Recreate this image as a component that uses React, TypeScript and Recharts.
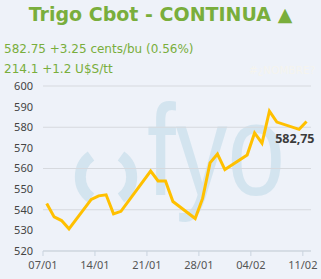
import { CartesianGrid, Line, LineChart, XAxis, YAxis } from 'recharts';

// fechas tal como aparecen en el gráfico (puntos al mediodía)
const fechas = [
  '2019-01-07', '2019-01-08', '2019-01-09', '2019-01-10',
  '2019-01-13', '2019-01-14', '2019-01-15', '2019-01-16', '2019-01-17',
  '2019-01-21', '2019-01-22', '2019-01-23', '2019-01-24',
  '2019-01-27', '2019-01-28', '2019-01-29', '2019-01-30', '2019-01-31',
  '2019-02-03', '2019-02-04', '2019-02-05', '2019-02-06', '2019-02-07',
  '2019-02-10', '2019-02-11',
];
const precios = [
  543, 536.5, 534.75, 530.75,
  545, 546.75, 547.25, 538, 539.25,
  558.75, 554, 554, 544,
  535.75, 545.5, 562.75, 567, 559.5,
  566.5, 577.25, 572.25, 587.75, 582.5,
  579, 582.75,
];
const ticksFechas = ['2019-01-07', '2019-01-14', '2019-01-21', '2019-01-28', '2019-02-04', '2019-02-11'];
const ticksPrecio = [520, 530, 540, 550, 560, 570, 580, 590, 600];

const DIA = 86400000;
const INICIO = Date.parse(ticksFechas[0]);
const aDias = (f: string) => (Date.parse(f) - INICIO) / DIA;

const data = fechas.map((f, i) => ({ t: aDias(f) + 0.5, precio: precios[i] }));

const fmtFecha = (d: number) => {
  const dt = new Date(INICIO + d * DIA);
  const dd = String(dt.getUTCDate()).padStart(2, '0');
  const mm = String(dt.getUTCMonth() + 1).padStart(2, '0');
  return `${dd}/${mm}`;
};

const VERDE = '#79ae3c';

function UltimoValor(props: any) {
  const { x, y, index, value } = props;
  if (index !== data.length - 1) return null;
  return (
    <text
      x={x + 8}
      y={y + 21}
      textAnchor='end'
      fill='#3c3c3c'
      fontSize={12.5}
      fontWeight='bold'
      fontFamily='"Noto Sans", sans-serif'
    >
      {String(value).replace('.', ',')}
    </text>
  );
}

export default function App() {
  return (
    <div
      style={{
        position: 'fixed',
        left: 0,
        top: 0,
        width: 321,
        height: 279,
        background: '#eef2f9',
        overflow: 'hidden',
      }}
    >
      <svg width={321} height={279} style={{ position: 'absolute', left: 0, top: 0 }}>
        <path d='M 91 156 A 26 26 0 0 0 91 198' stroke='#d3e4ef' strokeWidth={11} fill='none' />
        <path d='M 121 156 A 26 26 0 0 1 121 198' stroke='#d3e4ef' strokeWidth={11} fill='none' />
        <text
          x={147}
          y={195}
          fontSize={130}
          fontFamily='"Liberation Sans", sans-serif'
          fill='#d3e4ef'
          textLength={138}
          lengthAdjust='spacingAndGlyphs'
        >
          fyo
        </text>
      </svg>
      <div
        style={{
          position: 'absolute',
          left: 0,
          top: 3,
          width: 321,
          textAlign: 'center',
          color: VERDE,
          fontFamily: '"DejaVu Sans", sans-serif',
          fontWeight: 'bold',
          fontSize: 19,
          whiteSpace: 'nowrap',
        }}
      >
        Trigo Cbot - CONTINUA ▲
      </div>
      <div
        style={{
          position: 'absolute',
          left: 4,
          top: 39,
          color: VERDE,
          fontFamily: '"DejaVu Sans", sans-serif',
          fontSize: 12,
          lineHeight: '20px',
          whiteSpace: 'nowrap',
        }}
      >
        <div>582.75 +3.25 cents/bu (0.56%)</div>
        <div>214.1 +1.2 U$S/tt</div>
      </div>
      <div
        style={{
          position: 'absolute',
          left: 249,
          top: 60,
          color: '#f5f4ee',
          fontFamily: '"DejaVu Sans", sans-serif',
          fontSize: 10.5,
          lineHeight: '20px',
          whiteSpace: 'nowrap',
        }}
      >
        #¿NOMBRE?
      </div>
      <LineChart
        width={321}
        height={279}
        data={data}
        margin={{ top: 86, right: 10, bottom: 8, left: 7 }}
        style={{ position: 'absolute', left: 0, top: 0 }}
      >
        <CartesianGrid vertical={false} stroke='#d6d9de' strokeWidth={1} />
        <XAxis
          type='number'
          dataKey='t'
          domain={[0, 36.1]}
          ticks={ticksFechas.map(aDias)}
          tickFormatter={fmtFecha}
          height={20}
          stroke='#c9d3de'
          tickSize={5}
          tickMargin={5}
          tick={{ fill: '#555', fontSize: 11, fontFamily: '"Noto Sans", sans-serif' }}
          allowDataOverflow
        />
        <YAxis
          type='number'
          domain={[520, 600]}
          ticks={ticksPrecio}
          width={36}
          axisLine={false}
          tickLine={false}
          tickSize={0}
          tickMargin={10}
          tick={{ fill: '#444', fontSize: 11, fontFamily: '"Noto Sans", sans-serif' }}
        />
        <Line
          type='linear'
          dataKey='precio'
          stroke='#ffc000'
          strokeWidth={3}
          dot={false}
          isAnimationActive={false}
          label={<UltimoValor />}
        />
      </LineChart>
    </div>
  );
}
